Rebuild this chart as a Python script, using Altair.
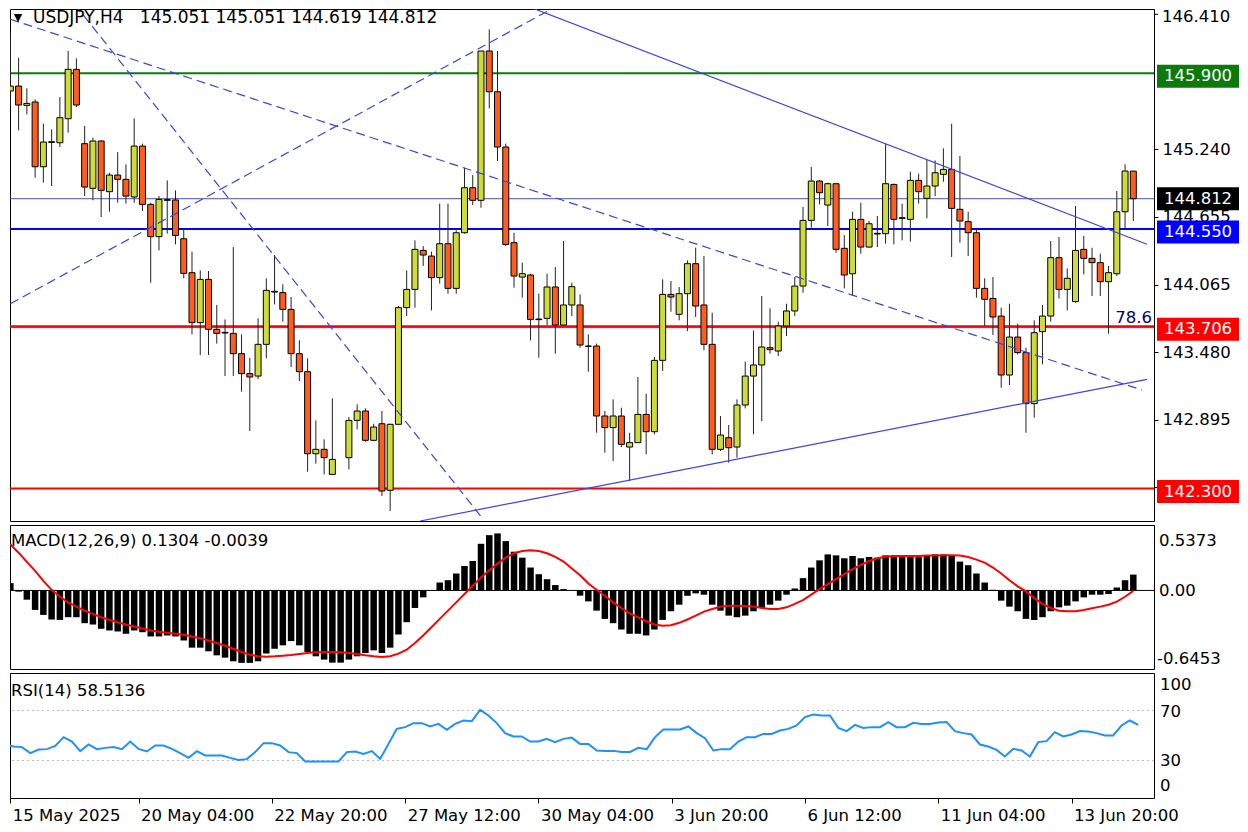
import altair as alt
import pandas as pd

# ---------------- data ----------------
opens = [145.745, 145.788, 145.621, 145.650, 145.089, 145.300, 145.297, 145.505, 145.933, 145.289,
         144.902, 145.312, 144.873, 145.017, 144.980, 144.827, 145.268, 144.763, 144.483, 144.804,
         144.801, 144.465, 144.171, 143.738, 144.113, 143.680, 143.654, 143.645, 143.469, 143.296,
         143.275, 143.550, 144.009, 143.998, 143.853, 143.469, 143.313, 142.602, 142.640, 142.423,
         None, 142.568, 142.891, 142.972, 142.718, 142.862, 142.285, 142.857, 143.868, 144.026,
         144.364, 144.315, 144.128, 144.422, 144.035, 144.517, 144.907, 144.798, 146.092, 145.739,
         145.260, 144.431, 144.133, 144.151, 143.769, 143.775, 144.047, 143.717, 143.891, 143.891,
         143.535, 143.535, 142.929, 142.828, 142.929, 142.660, 142.698, 142.943, 142.793, 143.411,
         143.983, 143.810, 143.989, 144.249, 143.891, 143.550, 142.640, 142.741, 142.660, 143.024,
         143.275, 143.371, 143.521, 143.492, 143.709, 143.839, 144.055, 144.624, 144.965, 144.757,
         144.942, 144.382, 144.162, 144.633, 144.393, 144.512, 144.509, 144.936, 144.647, 144.633,
         144.971, 144.815, 144.922, 145.023, 145.066, 144.720, 144.613, 144.517, 144.035, 143.948,
         143.795, 143.284, 143.613, 143.478, 143.036, 143.660, 143.795, 144.301, 144.026, 143.920,
         144.373, 144.295, 144.258, 144.093, 144.162, 144.699, 145.051]
highs = [146.251, 146.034, 145.768, 145.673, 145.462, 145.413, 145.693, 146.092, 146.028, 145.442,
         145.341, 145.318, 145.037, 145.216, 145.110, 145.508, 145.289, 144.777, 144.835, 144.971,
         144.884, 144.546, 144.353, 144.191, 144.185, 143.891, 143.766, 144.393, 143.636, 143.434,
         143.775, 144.122, 144.324, 144.070, 143.960, 143.585, 143.429, 142.891, 142.727, 143.082,
         None, 142.920, 143.030, 142.995, 142.862, 142.972, 142.862, 143.882, 144.191, 144.451,
         144.402, 144.353, 144.769, 144.769, 144.538, 145.081, 145.017, 146.092, 146.279, 146.092,
         145.289, 144.517, 144.258, 144.162, 143.989, 144.162, 144.220, 144.445, 144.084, 143.983,
         143.636, 143.556, 142.972, 143.073, 143.001, 142.784, 143.267, 143.122, 143.440, 144.113,
         144.099, 144.047, 144.278, 144.388, 144.315, 143.824, 142.929, 142.851, 143.073, 143.400,
         143.671, 143.969, 143.862, 143.746, 143.902, 144.133, 144.740, 145.087, 144.971, 144.951,
         144.942, 144.497, 144.699, 144.777, 144.619, 144.662, 145.289, 144.942, 144.769, 145.046,
         145.029, 145.153, 145.144, 145.248, 145.462, 145.182, 144.699, 144.555, 144.122, 144.133,
         143.868, 143.902, 143.729, 143.521, 143.758, 143.891, 144.445, 144.480, 144.208, 144.749,
         144.489, 144.387, 144.336, 144.229, 144.879, 145.110, 145.051]
lows = [145.615, 145.404, 145.543, 144.994, 144.951, 144.922, 145.260, 145.384, 145.606, 144.835,
        144.798, 144.653, 144.699, 144.777, 144.769, 144.777, 144.705, 144.084, 144.364, 144.509,
        144.416, 144.122, 143.636, 143.457, 143.457, 143.556, 143.275, 143.275, 143.140, 142.799,
        143.247, 143.429, 143.896, 143.746, 143.353, 143.232, 142.446, 142.516, 142.423, 142.418,
        None, 142.467, 142.813, 142.706, 142.712, 142.236, 142.106, 142.857, 143.795, 143.868,
        144.229, 143.844, 144.076, 143.989, 143.989, 144.509, 144.757, 144.734, 145.595, 145.139,
        144.402, 144.041, 143.954, 143.585, 143.434, 143.717, 143.469, 143.717, 143.795, 143.521,
        143.313, 142.784, 142.611, 142.539, 142.660, 142.366, 142.698, 142.597, 142.770, 143.319,
        143.833, 143.758, 143.665, 143.787, 143.498, 142.597, 142.626, 142.524, 142.568, 142.995,
        142.770, 142.885, 143.469, 143.449, 143.622, 143.795, 143.998, 144.561, 144.763, 144.575,
        144.344, 144.035, 143.969, 144.335, 144.387, 144.393, 144.422, 144.416, 144.451, 144.440,
        144.769, 144.642, 144.835, 144.959, 144.307, 144.431, 144.315, 143.954, 143.709, 143.631,
        143.174, 143.197, 143.463, 142.784, 142.914, 143.377, 143.746, 143.948, 143.844, 143.911,
        144.156, 143.969, 143.969, 143.642, 144.142, 144.555, 144.619]
closes = [145.788, 145.624, 145.638, 145.089, 145.303, 145.306, 145.514, 145.933, 145.624, 144.913,
          145.312, 144.884, 145.017, 144.980, 144.835, 145.268, 144.763, 144.483, 144.806, 144.798,
          144.494, 144.165, 143.738, 144.113, 143.680, 143.645, 143.648, 143.469, 143.296, 143.267,
          143.550, 144.018, 144.003, 143.853, 143.469, 143.313, 142.602, 142.640, 142.568, 142.553,
          None, 142.891, 142.972, 142.718, 142.833, 142.279, 142.857, 143.868, 144.026, 144.373,
          144.324, 144.128, 144.422, 144.035, 144.517, 144.907, 144.798, 146.092, 145.739, 145.260,
          144.416, 144.142, 144.162, 143.766, 143.764, 144.047, 143.717, 143.891, 144.050, 143.544,
          143.533, 142.929, 142.828, 142.929, 142.683, 142.698, 142.943, 142.793, 143.411, 143.983,
          143.960, 143.989, 144.249, 143.882, 143.550, 142.640, 142.764, 142.654, 143.024, 143.275,
          143.371, 143.527, 143.504, 143.709, 143.839, 144.055, 144.624, 144.965, 144.864, 144.942,
          144.373, 144.151, 144.633, 144.393, 144.595, 144.506, 144.942, 144.633, 144.642, 144.971,
          144.873, 144.922, 145.037, 145.066, 144.728, 144.619, 144.517, 144.035, 143.940, 143.787,
          143.284, 143.613, 143.478, 143.036, 143.651, 143.795, 144.301, 144.026, 144.122, 144.364,
          144.295, 144.258, 144.093, 144.171, 144.699, 145.052, 144.812]

macd_hist = [0.060, -0.010, -0.076, -0.160, -0.201, -0.239, -0.242, -0.220, -0.220, -0.269,
             -0.280, -0.315, -0.329, -0.337, -0.356, -0.329, -0.343, -0.378, -0.378, -0.370,
             -0.378, -0.411, -0.470, -0.470, -0.500, -0.533, -0.552, -0.582, -0.595, -0.595,
             -0.582, -0.519, -0.479, -0.451, -0.416, -0.451, -0.506, -0.541, -0.568, -0.593,
             -0.593, -0.568, -0.541, -0.514, -0.492, -0.514, -0.470, -0.362, -0.261, -0.144,
             -0.057, 0.003, 0.065, 0.084, 0.139, 0.201, 0.242, 0.383, 0.454, 0.468,
             0.405, 0.318, 0.269, 0.188, 0.133, 0.092, 0.044, 0.011, 0.002, -0.043,
             -0.090, -0.166, -0.234, -0.269, -0.321, -0.356, -0.356, -0.370, -0.321, -0.242,
             -0.171, -0.117, -0.044, -0.024, -0.035, -0.117, -0.166, -0.207, -0.220, -0.207,
             -0.171, -0.144, -0.117, -0.084, -0.035, 0.016, 0.101, 0.188, 0.247, 0.296,
             0.288, 0.264, 0.283, 0.264, 0.275, 0.269, 0.288, 0.288, 0.277, 0.288,
             0.277, 0.288, 0.296, 0.296, 0.288, 0.237, 0.207, 0.139, 0.065, 0.005,
             -0.084, -0.133, -0.171, -0.234, -0.242, -0.220, -0.171, -0.139, -0.125, -0.090,
             -0.057, -0.035, -0.035, -0.030, 0.024, 0.084, 0.130]
macd_signal = [0.378, 0.310, 0.234, 0.160, 0.079, 0.005, -0.052, -0.098, -0.133, -0.166,
               -0.193, -0.220, -0.242, -0.261, -0.280, -0.296, -0.313, -0.329, -0.340, -0.348,
               -0.356, -0.364, -0.378, -0.392, -0.411, -0.432, -0.454, -0.479, -0.506, -0.527,
               -0.541, -0.544, -0.541, -0.536, -0.530, -0.522, -0.514, -0.508, -0.506, -0.506,
               -0.508, -0.514, -0.522, -0.533, -0.541, -0.547, -0.541, -0.519, -0.487, -0.432,
               -0.370, -0.302, -0.234, -0.166, -0.098, -0.030, 0.038, 0.106, 0.166, 0.220,
               0.269, 0.305, 0.324, 0.329, 0.324, 0.305, 0.275, 0.237, 0.180, 0.125,
               0.057, 0.005, -0.044, -0.098, -0.144, -0.188, -0.220, -0.253, -0.280, -0.291,
               -0.286, -0.266, -0.239, -0.207, -0.174, -0.152, -0.133, -0.125, -0.125, -0.128,
               -0.133, -0.144, -0.152, -0.152, -0.139, -0.111, -0.079, -0.035, 0.011, 0.052,
               0.092, 0.133, 0.174, 0.209, 0.242, 0.264, 0.277, 0.283, 0.283, 0.283,
               0.283, 0.286, 0.286, 0.288, 0.288, 0.286, 0.275, 0.253, 0.228, 0.188,
               0.139, 0.084, 0.033, -0.008, -0.063, -0.111, -0.144, -0.166, -0.171, -0.171,
               -0.160, -0.147, -0.133, -0.117, -0.092, -0.052, -0.004]
rsi_values = [42.8, 41.2, 40.7, 35.9, 38.8, 39.1, 41.7, 48.7, 45.2, 37.5,
              42.8, 39.1, 40.1, 40.7, 39.1, 45.2, 39.3, 37.2, 42.0, 42.0,
              39.3, 35.9, 32.1, 37.5, 34.0, 34.0, 34.0, 32.1, 30.5, 31.1,
              36.7, 43.9, 43.9, 42.0, 36.7, 35.9, 29.2, 29.2, 29.2, 29.2,
              29.2, 36.7, 37.2, 35.3, 37.5, 31.3, 43.3, 55.3, 56.7, 59.9,
              59.9, 57.2, 59.3, 54.5, 59.3, 62.0, 61.5, 70.5, 66.0, 59.9,
              51.9, 49.2, 49.2, 45.2, 45.2, 47.3, 44.7, 47.3, 48.3, 43.3,
              43.3, 38.0, 37.7, 37.7, 36.9, 36.9, 40.1, 39.1, 48.7, 54.8,
              54.8, 54.8, 57.2, 51.9, 47.9, 38.0, 39.1, 39.1, 45.2, 48.7,
              48.7, 51.3, 51.3, 54.0, 55.3, 58.0, 64.7, 66.8, 66.0, 66.0,
              56.1, 53.5, 58.5, 56.1, 56.7, 56.7, 60.7, 56.7, 56.7, 60.1,
              59.3, 59.3, 60.4, 60.7, 53.5, 51.9, 50.8, 42.8, 41.2, 38.5,
              33.2, 39.3, 38.0, 33.2, 44.7, 45.5, 52.7, 49.2, 50.8, 53.5,
              53.2, 51.9, 50.0, 50.0, 58.0, 62.0, 58.5]

x_tick_bars = [0, 16, 32, 48, 64, 80, 96, 112, 128]
x_tick_labels = ["15 May 2025", "20 May 04:00", "22 May 20:00", "27 May 12:00", "30 May 04:00",
                 "3 Jun 20:00", "6 Jun 12:00", "11 Jun 04:00", "13 Jun 20:00"]
price_ticks = [145.240, 144.655, 144.065, 143.480, 142.895, 142.310]
top_price_tick = 146.410

level_prices = [145.900, 144.550, 143.706, 142.300]
level_colors = ["#0b7a0b", "#0000ff", "#ff0000", "#ff0000"]
bid_price = 144.812
fib_price = 143.695
fib_text = "78.6"

# trend lines: (line id, bar index, price) anchor points
tl_ids = ["d1", "d1", "d2", "d2", "d3", "d3", "s1", "s1", "s2", "s2"]
tl_bars = [0.0, 137.06, 7.80, 57.23, 0.0, 66.43, 62.03, 137.66, 49.63, 137.66]
tl_prices = [146.367, 143.154, 146.497, 142.037, 143.902, 146.491, 146.497, 144.417, 142.019, 143.247]

title_text = "USDJPY,H4\u00a0\u00a0 145.051 145.051 144.619 144.812"
macd_text = "MACD(12,26,9) 0.1304 -0.0039"
rsi_text = "RSI(14) 58.5136"

# ---------------- styling ----------------
FONT = "DejaVu Sans"
FS = 16.5
BULL = "#cddc3a"
BEAR = "#ff5c1e"
TLC = "#3a42f2"
W = 1144
H_MAIN, H_MACD, H_RSI = 512, 144, 125

N = len(opens)
bars = list(range(N))
candles = pd.DataFrame({"bar": bars, "open": opens, "high": highs,
                        "low": lows, "close": closes}).dropna()

xs = alt.Scale(domain=[0.564, 137.9], nice=False, zero=False)
ys = alt.Scale(domain=[142.019, 146.456], nice=False, zero=False)
ys_macd = alt.Scale(domain=[-0.6453, 0.5373], nice=False, zero=False)
ys_rsi = alt.Scale(domain=[0, 100], nice=False, zero=False)

yax = alt.Axis(orient="right", values=price_ticks, format=".3f", tickSize=4, labelPadding=4,
               labelFont=FONT, labelFontSize=FS, labelColor="black", tickColor="black",
               domain=False, grid=False, labelOverlap=False, labelBound=False, labelFlush=False,
               title=None, zindex=0)
X = alt.X("bar:Q", scale=xs, axis=None)


def Yp(field):
    return alt.Y(field, type="quantitative", scale=ys, axis=yax)


one = pd.DataFrame({"a": [0]})

# ---- main price panel ----
wicks = alt.Chart(candles).mark_rule(color="#222222", strokeWidth=1, clip=True).encode(
    x=X, y=Yp("low"), y2="high:Q")
bodies = alt.Chart(candles).mark_bar(size=6, stroke="black", strokeWidth=1, clip=True).encode(
    x=X, y=Yp("open"), y2="close:Q",
    color=alt.condition("datum.close >= datum.open", alt.value(BULL), alt.value(BEAR)))

levels_df = pd.DataFrame({"price": level_prices, "col": level_colors})
fib_line = alt.Chart(pd.DataFrame({"price": [fib_price]})).mark_rule(
    color=TLC, strokeWidth=1).encode(y=Yp("price"))
levels = alt.Chart(levels_df).mark_rule(strokeWidth=2).encode(
    y=Yp("price"), color=alt.Color("col:N", scale=None))
bid_line = alt.Chart(pd.DataFrame({"price": [bid_price]})).mark_rule(
    color="#4f4fc0", strokeWidth=1).encode(y=Yp("price"))

tl = pd.DataFrame({"line": tl_ids, "bar": tl_bars, "price": tl_prices})
dashed = alt.Chart(tl[tl["line"].str.startswith("d")]).mark_line(
    color=TLC, strokeWidth=1.2, strokeDash=[9, 5], clip=True).encode(
    x=X, y=Yp("price"), detail="line:N")
solid = alt.Chart(tl[tl["line"].str.startswith("s")]).mark_line(
    color=TLC, strokeWidth=1.2, clip=True).encode(
    x=X, y=Yp("price"), detail="line:N")

fib_label = alt.Chart(pd.DataFrame({"price": [fib_price], "t": [fib_text]})).mark_text(
    align="right", baseline="bottom", dy=-2, font=FONT, fontSize=FS, color="#000080").encode(
    x=alt.value(1142), y=Yp("price"), text="t:N")

top_tick_label = alt.Chart(pd.DataFrame({"price": [top_price_tick], "t": ["146.410"]})).mark_text(
    align="left", baseline="top", dy=-5, font=FONT, fontSize=FS, color="black").encode(
    x=alt.value(W + 8), y=Yp("price"), text="t:N")
top_tick = alt.Chart(pd.DataFrame({"price": [top_price_tick]})).mark_rule(color="black").encode(
    x=alt.value(W), x2=alt.value(W + 4), y=Yp("price"))

BOX = "M-1,-0.28L1,-0.28L1,0.28L-1,0.28Z"
box_df = pd.DataFrame({"price": level_prices,
                       "label": ["%.3f" % p for p in level_prices],
                       "col": level_colors})
boxes = alt.Chart(box_df).mark_point(shape=BOX, filled=True, size=82 * 82, opacity=1,
                                     strokeWidth=0, yOffset=3).encode(
    x=alt.value(W + 44), y=Yp("price"), color=alt.Color("col:N", scale=None))
box_text = alt.Chart(box_df).mark_text(font=FONT, fontSize=FS, color="white", dy=3).encode(
    x=alt.value(W + 44), y=Yp("price"), text="label:N")
bid_df = pd.DataFrame({"price": [bid_price], "label": ["%.3f" % bid_price]})
bid_box = alt.Chart(bid_df).mark_point(shape=BOX, filled=True, size=82 * 82, opacity=1,
                                       strokeWidth=0, color="black").encode(
    x=alt.value(W + 44), y=Yp("price"))
bid_text = alt.Chart(bid_df).mark_text(font=FONT, fontSize=FS, color="white").encode(
    x=alt.value(W + 44), y=Yp("price"), text="label:N")

tri = alt.Chart(one).mark_text(text="\u25bc", font=FONT, fontSize=11, color="black").encode(
    x=alt.value(8), y=alt.value(9))
title = alt.Chart(pd.DataFrame({"t": [title_text]})).mark_text(
    align="left", baseline="middle", font=FONT, fontSize=17, color="black").encode(
    x=alt.value(23), y=alt.value(9), text="t:N")

main = alt.layer(fib_line, levels, bid_line, wicks, bodies, dashed, solid, fib_label,
                 top_tick, top_tick_label, bid_box, bid_text, boxes, box_text, tri, title
                 ).properties(width=W, height=H_MAIN)

# ---- MACD panel ----
macd_df = pd.DataFrame({"bar": bars, "hist": macd_hist, "signal": macd_signal})
Ym = alt.Y("hist:Q", scale=ys_macd, axis=None)
hist = alt.Chart(macd_df).mark_bar(size=6.5, color="black", clip=True).encode(
    x=X, y=Ym, y2=alt.datum(0))
zero = alt.Chart(pd.DataFrame({"v": [0.0]})).mark_rule(color="black", strokeWidth=1).encode(
    y=alt.Y("v:Q", scale=ys_macd, axis=None))
sig = alt.Chart(macd_df).mark_line(color="#ff0000", strokeWidth=2, clip=True).encode(
    x=X, y=alt.Y("signal:Q", scale=ys_macd, axis=None))
macd_lbl_df = pd.DataFrame({"v": [0.5373, 0.0, -0.6453], "t": ["0.5373", "0.00", "-0.6453"],
                            "dy": [16, 1, -10]})
macd_lbls = alt.layer(*[
    alt.Chart(macd_lbl_df.iloc[[i]]).mark_text(align="left", baseline="middle", font=FONT,
                                               fontSize=FS, color="black",
                                               dy=int(macd_lbl_df["dy"][i])).encode(
        x=alt.value(W + (3 if i == 2 else 5)), y=alt.Y("v:Q", scale=ys_macd, axis=None), text="t:N")
    for i in range(3)])
macd_title = alt.Chart(pd.DataFrame({"t": [macd_text]})).mark_text(
    align="left", baseline="middle", font=FONT, fontSize=FS, color="black").encode(
    x=alt.value(1), y=alt.value(16), text="t:N")
macd = alt.layer(hist, zero, sig, macd_lbls, macd_title).properties(width=W, height=H_MACD)

# ---- RSI panel ----
label_arr = "[" + ",".join("'%s'" % s for s in x_tick_labels) + "]"
xax = alt.Axis(values=[0.6] + x_tick_bars[1:],
               labelExpr="datum.value < 8 ? '%s' : %s[round(datum.value/16)]" % (x_tick_labels[0], label_arr),
               labelAlign="left", labelOffset=2, tickSize=5, labelPadding=4, domain=False, grid=False,
               labelFont=FONT, labelFontSize=FS, labelColor="black", tickColor="black",
               labelOverlap=False, labelBound=False, labelFlush=False, title=None)
rsi_df = pd.DataFrame({"bar": bars, "rsi": rsi_values})
rsi_line = alt.Chart(rsi_df).mark_line(color="#1e90ff", strokeWidth=2, clip=True).encode(
    x=alt.X("bar:Q", scale=xs, axis=xax), y=alt.Y("rsi:Q", scale=ys_rsi, axis=None))
rsi_lv = alt.Chart(pd.DataFrame({"v": [70, 30]})).mark_rule(
    color="#bdbdbd", strokeWidth=1, strokeDash=[2, 3]).encode(
    y=alt.Y("v:Q", scale=ys_rsi, axis=None))
rsi_lbl_df = pd.DataFrame({"v": [100, 70, 30, 0], "t": ["100", "70", "30", "0"]})
rsi_dys = [12, 1, 0, -12]
rsi_lbls = alt.layer(*[
    alt.Chart(rsi_lbl_df.iloc[[i]]).mark_text(align="left", baseline="middle", font=FONT,
                                              fontSize=FS, color="black", dy=rsi_dys[i]).encode(
        x=alt.value(W + 6), y=alt.Y("v:Q", scale=ys_rsi, axis=None), text="t:N")
    for i in range(4)])
rsi_title = alt.Chart(pd.DataFrame({"t": [rsi_text]})).mark_text(
    align="left", baseline="middle", font=FONT, fontSize=FS, color="black").encode(
    x=alt.value(1), y=alt.value(18), text="t:N")
rsi_chart = alt.layer(rsi_lv, rsi_line, rsi_lbls, rsi_title).properties(width=W, height=H_RSI)

chart = alt.vconcat(main, macd, rsi_chart, spacing=4, bounds="flush", padding=0,
                    background="white").configure_view(stroke="black", strokeWidth=1)

chart.save("out.html", embed_options={"renderer": "svg", "actions": False})
